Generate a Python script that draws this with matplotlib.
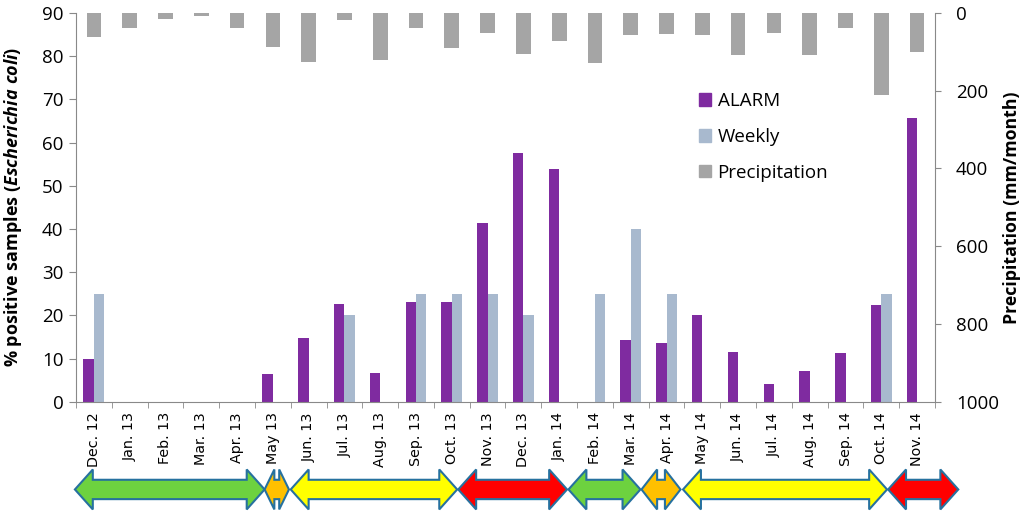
import matplotlib
matplotlib.use("Agg")
import matplotlib.pyplot as plt
import matplotlib.patches as mpatches
import matplotlib.transforms as mtransforms
import numpy as np

# monthly categories
months = ['Dec. 12', 'Jan. 13', 'Feb. 13', 'Mar. 13', 'Apr. 13', 'May 13',
          'Jun. 13', 'Jul. 13', 'Aug. 13', 'Sep. 13', 'Oct. 13', 'Nov. 13',
          'Dec. 13', 'Jan. 14', 'Feb. 14', 'Mar. 14', 'Apr. 14', 'May 14',
          'Jun. 14', 'Jul. 14', 'Aug. 14', 'Sep. 14', 'Oct. 14', 'Nov. 14']

# % positive samples
alarm = [10.0, 0, 0, 0, 0, 6.5, 14.8, 22.7, 6.6, 23.1, 23.1, 41.3,
         57.6, 53.8, 0, 14.2, 13.7, 20.0, 11.6, 4.0, 7.1, 11.2, 22.3, 65.6]
weekly = [25, 0, 0, 0, 0, 0, 0, 20, 0, 25, 25, 25,
          20, 0, 25, 40, 25, 0, 0, 0, 0, 0, 25, 0]

# precipitation (mm/month)
precip = [62, 40, 16, 7, 38, 88, 126, 17, 120, 39, 91, 51,
          106, 71, 128, 56, 54, 56, 109, 51, 107, 40, 210, 100]

# risk periods shown as arrows under the axis (in month-index units)
period_start = [-0.53, 4.77, 5.50, 10.18, 13.26, 15.30, 16.46, 22.19]
period_end = [4.77, 5.45, 10.15, 13.22, 15.27, 16.39, 22.16, 24.15]
period_colors = ['#6DD23F', '#FFC000', '#FFFF00', '#FF0000',
                 '#6DD23F', '#FFC000', '#FFFF00', '#FF0000']

plt.rcParams['font.family'] = ['Open Sans', 'DejaVu Sans']
plt.rcParams['mathtext.fontset'] = 'custom'
plt.rcParams['mathtext.rm'] = 'Open Sans'
plt.rcParams['mathtext.it'] = 'Open Sans:italic'
plt.rcParams['mathtext.bf'] = 'Open Sans:bold'
plt.rcParams['mathtext.bfit'] = 'Open Sans:italic:bold'

axis_grey = '#898989'

fig = plt.figure(figsize=(10.24, 5.17), dpi=100)
ax = fig.add_axes([0.0742, 0.223, 0.8389, 0.752])

x = np.arange(len(months))
w = 0.29
ax.bar(x - w / 2, alarm, w, color='#7F2BA0', label='ALARM', zorder=2)
ax.bar(x + w / 2, weekly, w, color='#A8B9CE', label='Weekly', zorder=2)

ax.set_xlim(-0.5, len(months) - 0.5)
ax.set_ylim(0, 90)
ax.set_yticks(np.arange(0, 91, 10))

ax.set_xticks(x)
ax.set_xticklabels(months, rotation=90, fontsize=10.3, family='DejaVu Sans')
ax.set_xticks(np.arange(-0.5, len(months), 1), minor=True)
ax.tick_params(axis='x', which='major', length=0, pad=7.5)
ax.tick_params(axis='x', which='minor', length=4, color=axis_grey, direction='out')
ax.tick_params(axis='y', labelsize=13.5, length=5, color=axis_grey, pad=4)

ax.set_ylabel(r'% positive samples ($\bfit{Escherichia\ coli}$)',
              fontsize=13, fontweight='bold')
ax.yaxis.set_label_coords(-0.0605, 0.5)

for side in ['left', 'bottom']:
    ax.spines[side].set_color(axis_grey)
ax.spines['top'].set_visible(False)
ax.spines['right'].set_visible(False)

# precipitation on an inverted secondary axis
ax2 = ax.twinx()
ax2.bar(x, precip, 0.41, color='#A5A5A5', label='Precipitation', zorder=2)
ax2.set_ylim(1000, 0)
ax2.set_yticks(np.arange(0, 1001, 200))
ax2.tick_params(axis='y', labelsize=13.5, length=4, color=axis_grey, pad=11)
for t in ax2.get_yticklabels():
    t.set_ha('left')
ax2.set_ylabel('Precipitation (mm/month)', fontsize=12.8, fontweight='bold')
ax2.yaxis.set_label_coords(1.079, 0.5)
ax2.spines['right'].set_color(axis_grey)
ax2.spines['top'].set_visible(False)
ax2.spines['left'].set_visible(False)
ax2.spines['bottom'].set_visible(False)

handles = [mpatches.Patch(color='#7F2BA0', label='ALARM'),
           mpatches.Patch(color='#A8B9CE', label='Weekly'),
           mpatches.Patch(color='#A5A5A5', label='Precipitation')]
ax2.legend(handles=handles, loc='center left', bbox_to_anchor=(0.725, 0.681),
           frameon=False, fontsize=13.5, handlelength=0.65, handleheight=0.65,
           handletextpad=0.35, labelspacing=0.95, borderpad=0, borderaxespad=0)

# double-headed arrows marking the periods
trans = mtransforms.blended_transform_factory(ax.transData, ax.transAxes)
yc, h1, h2 = -0.2257, 0.0249, 0.0514
for x0, x1, c in zip(period_start, period_end, period_colors):
    L = min(0.5, 0.4 * (x1 - x0))
    verts = [(x0, yc), (x0 + L, yc + h2), (x0 + L, yc + h1), (x1 - L, yc + h1),
             (x1 - L, yc + h2), (x1, yc), (x1 - L, yc - h2), (x1 - L, yc - h1),
             (x0 + L, yc - h1), (x0 + L, yc - h2)]
    poly = mpatches.Polygon(verts, closed=True, facecolor=c, edgecolor='#26719F',
                            linewidth=1.5, transform=trans, clip_on=False, zorder=5)
    ax.add_patch(poly)

fig.savefig('out.png', dpi=100)
